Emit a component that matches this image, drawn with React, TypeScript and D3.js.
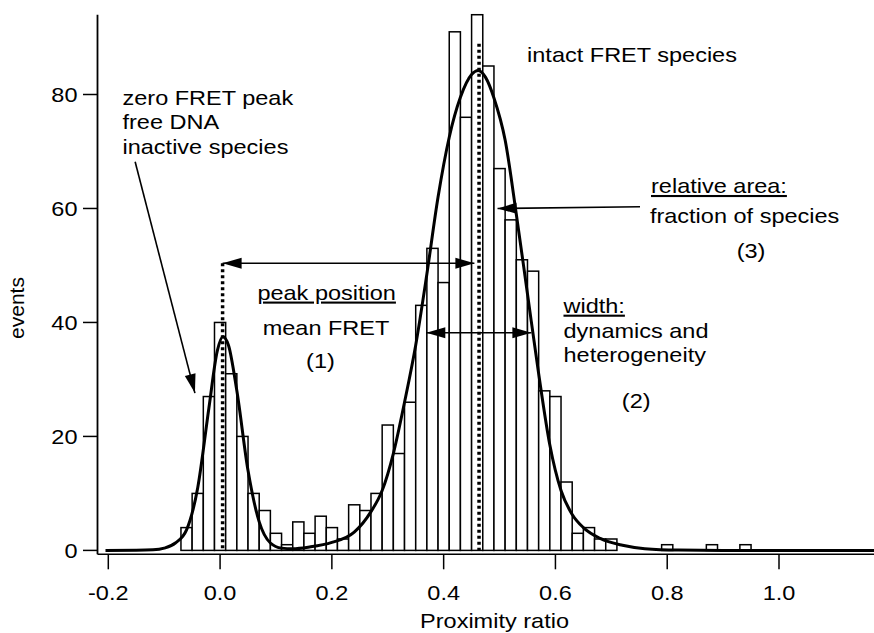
import React from "react";
import * as d3 from "d3";

// Histogram bins (center of each 0.02-wide bin) and counts
const binCenters = [
  -0.06, -0.04, -0.02, 0.0, 0.02, 0.04, 0.06, 0.08, 0.1, 0.12, 0.14, 0.16, 0.18, 0.2,
  0.22, 0.24, 0.26, 0.28, 0.3, 0.32, 0.34, 0.36, 0.38, 0.4, 0.42, 0.44, 0.46, 0.48,
  0.5, 0.52, 0.54, 0.56, 0.58, 0.6, 0.62, 0.64, 0.66, 0.68, 0.7, 0.8, 0.88, 0.94,
];
const binCounts = [
  4, 10, 27, 40, 31, 20, 10, 7, 3, 1, 5, 3, 6, 4,
  2, 8, 7, 10, 22, 17, 26, 43, 53, 47, 91, 76, 94, 85,
  67, 58, 51, 49, 28, 27, 12, 3, 4, 2, 2, 1, 1, 1,
];
const binWidth = 0.02;

// Fit curve
const fitX = [
  -0.205, -0.15, -0.12, -0.1, -0.08, -0.06, -0.04, -0.02, -0.005, 0.005, 0.015, 0.03,
  0.05, 0.07, 0.09, 0.11, 0.13, 0.16, 0.2, 0.24, 0.27, 0.29, 0.31, 0.33, 0.35, 0.37,
  0.39, 0.41, 0.43, 0.45, 0.462, 0.475, 0.49, 0.51, 0.53, 0.55, 0.57, 0.59, 0.61,
  0.63, 0.65, 0.68, 0.72, 0.76, 0.82, 0.9, 1.17,
];
const fitY = [
  0, 0.02, 0.1, 0.4, 1.3, 3.6, 11, 25, 35, 37.5, 36, 28,
  14, 5, 1.3, 0.4, 0.3, 0.6, 1.4, 3.2, 6.8, 10.5, 17, 26, 36, 48.5,
  62, 72.5, 79.5, 83.5, 84.2, 83, 79.4, 72, 59, 45, 31, 18.5, 10.5,
  6.3, 4, 2.1, 0.9, 0.3, 0.05, 0, 0,
];

const xTicks = [-0.2, 0.0, 0.2, 0.4, 0.6, 0.8, 1.0];
const yTicks = [0, 20, 40, 60, 80];

const xLabel = "Proximity ratio";
const yLabel = "events";

type Note = { t: string; x: number; y: number; anchor: "start" | "middle" | "end"; u?: boolean };
const notes: Note[] = [
  { t: "zero FRET peak", x: -0.1746, y: 78.15, anchor: "start" },
  { t: "free DNA", x: -0.1746, y: 73.9, anchor: "start" },
  { t: "inactive species", x: -0.1746, y: 69.6, anchor: "start" },
  { t: "peak position", x: 0.1907, y: 44.0, anchor: "middle", u: true },
  { t: "mean FRET", x: 0.1895, y: 37.8, anchor: "middle" },
  { t: "(1)", x: 0.1796, y: 32.0, anchor: "middle" },
  { t: "intact FRET species", x: 0.737, y: 85.75, anchor: "middle" },
  { t: "relative area:", x: 0.771, y: 62.7, anchor: "start", u: true },
  { t: "fraction of species", x: 0.769, y: 57.5, anchor: "start" },
  { t: "(3)", x: 0.95, y: 51.3, anchor: "middle" },
  { t: "width:", x: 0.6144, y: 41.7, anchor: "start", u: true },
  { t: "dynamics and", x: 0.6144, y: 37.3, anchor: "start" },
  { t: "heterogeneity", x: 0.6144, y: 33.1, anchor: "start" },
  { t: "(2)", x: 0.7445, y: 25.0, anchor: "middle" },
];

type Arrow = { x1: number; y1: number; x2: number; y2: number; both?: boolean };
const arrows: Arrow[] = [
  { x1: -0.152, y1: 68.2, x2: -0.045, y2: 27.6 },
  { x1: 0.0045, y1: 50.4, x2: 0.455, y2: 50.4, both: true },
  { x1: 0.7513, y1: 60.3, x2: 0.4964, y2: 60.0 },
  { x1: 0.369, y1: 38.2, x2: 0.557, y2: 38.2, both: true },
];

const dotted = [
  { x: 0.0045, top: 50.4 },
  { x: 0.4633, top: 88.9 },
];

const W = 874;
const H = 633;
const FONT = "'Liberation Sans', Arial, Helvetica, sans-serif";
const FS = 21;
const SX = 1.12;

function head(x1: number, y1: number, x2: number, y2: number, len = 19, hw = 5.5) {
  const dx = x2 - x1;
  const dy = y2 - y1;
  const L = Math.hypot(dx, dy);
  const ux = dx / L;
  const uy = dy / L;
  const bx = x2 - ux * len;
  const by = y2 - uy * len;
  const px = -uy * hw;
  const py = ux * hw;
  return `${x2},${y2} ${bx + px},${by + py} ${bx - px},${by - py}`;
}

export default function App() {
  const x = d3.scaleLinear().domain([-0.2, 1.0]).range([108.3, 779]);
  const y = d3.scaleLinear().domain([0, 80]).range([550.4, 94.5]);

  const axisY = 554.3;
  const axisX = 97.5;
  const yTop = y(94.0);

  const line = d3
    .line<number>()
    .x((_, i) => x(fitX[i]))
    .y((d) => y(d))
    .curve(d3.curveMonotoneX);

  const Txt = (p: { x: number; y: number; anchor: string; children: React.ReactNode; u?: boolean; dy?: string }) => (
    <text
      transform={`translate(${p.x},${p.y}) scale(${SX},1)`}
      textAnchor={p.anchor as any}
      dy={p.dy}
      fontFamily={FONT}
      fontSize={FS}
      fill="#000"
      textDecoration={p.u ? "underline" : undefined}
    >
      {p.children}
    </text>
  );

  return (
    <svg
      width={W}
      height={H}
      viewBox={`0 0 ${W} ${H}`}
      style={{ position: "absolute", left: 0, top: 0, background: "#fff" }}
    >
      <rect x={0} y={0} width={W} height={H} fill="#fff" />

      {/* bars */}
      <g>
        {binCenters.map((c, i) => (
          <rect
            key={i}
            x={x(c - binWidth / 2)}
            y={y(binCounts[i])}
            width={x(c + binWidth / 2) - x(c - binWidth / 2)}
            height={y(0) - y(binCounts[i])}
            fill="#fff"
            stroke="#000"
            strokeWidth={1.5}
          />
        ))}
      </g>

      {/* dotted lines */}
      {dotted.map((d, i) => (
        <line
          key={i}
          x1={x(d.x)}
          x2={x(d.x)}
          y1={y(d.top)}
          y2={y(0)}
          stroke="#000"
          strokeWidth={3.5}
          strokeDasharray="3 3"
        />
      ))}

      {/* fit curve */}
      <path d={line(fitY) || ""} fill="none" stroke="#000" strokeWidth={3} strokeLinejoin="round" />

      {/* arrows */}
      {arrows.map((a, i) => {
        const X1 = x(a.x1), Y1 = y(a.y1), X2 = x(a.x2), Y2 = y(a.y2);
        return (
          <g key={i}>
            <line x1={X1} y1={Y1} x2={X2} y2={Y2} stroke="#000" strokeWidth={1.6} />
            <polygon points={head(X1, Y1, X2, Y2)} fill="#000" />
            {a.both && <polygon points={head(X2, Y2, X1, Y1)} fill="#000" />}
          </g>
        );
      })}

      {/* axes */}
      <line x1={axisX} x2={axisX} y1={yTop} y2={axisY} stroke="#000" strokeWidth={1.8} />
      <line x1={axisX} x2={W} y1={axisY} y2={axisY} stroke="#000" strokeWidth={1.5} />
      {yTicks.map((t) => (
        <g key={t}>
          <line x1={axisX - 14.5} x2={axisX} y1={y(t)} y2={y(t)} stroke="#000" strokeWidth={1.5} />
          <Txt x={axisX - 20} y={y(t)} anchor="end" dy="0.35em">
            {String(t)}
          </Txt>
        </g>
      ))}
      {xTicks.map((t) => (
        <g key={t}>
          <line x1={x(t)} x2={x(t)} y1={axisY} y2={axisY + 15} stroke="#000" strokeWidth={1.5} />
          <Txt x={x(t)} y={600} anchor="middle">
            {t.toFixed(1)}
          </Txt>
        </g>
      ))}
      <Txt x={494.5} y={628} anchor="middle">
        {xLabel}
      </Txt>
      <text
        transform={`translate(24,308) rotate(-90)`}
        textAnchor="middle"
        fontFamily={FONT}
        fontSize={FS}
      >
        {yLabel}
      </text>

      {/* annotations */}
      {notes.map((n, i) => (
        <Txt key={i} x={x(n.x)} y={y(n.y)} anchor={n.anchor} u={n.u}>
          {n.t}
        </Txt>
      ))}
    </svg>
  );
}
